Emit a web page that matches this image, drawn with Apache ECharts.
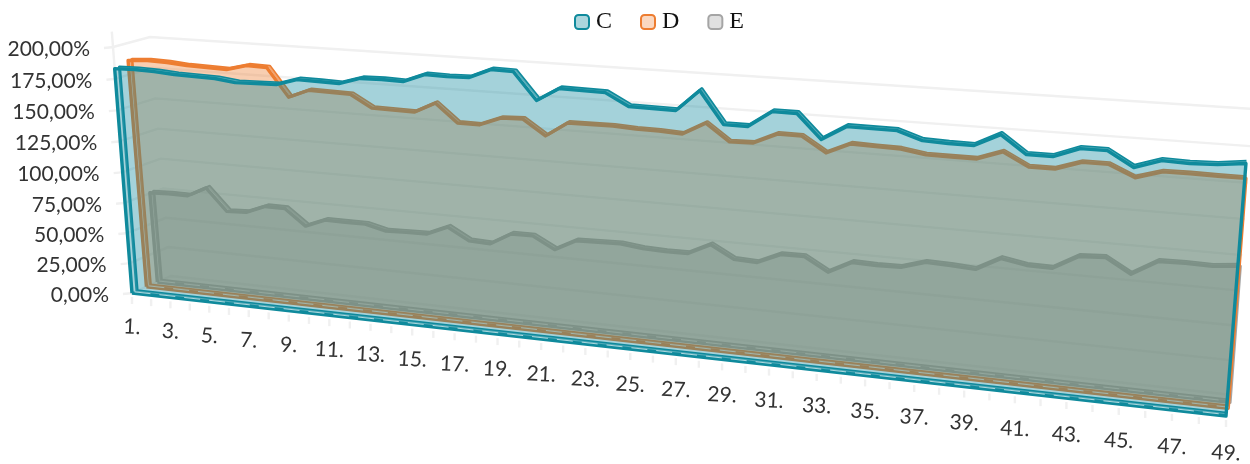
<!DOCTYPE html>
<html><head><meta charset="utf-8">
<style>html,body{margin:0;padding:0;background:#fff}#c{width:1250px;height:464px}</style>
<script src="https://cdn.jsdelivr.net/npm/echarts@6/dist/echarts.min.js"></script>
</head><body><div id="c"></div>
<script>
const categories = ["1.","2.","3.","4.","5.","6.","7.","8.","9.","10.","11.","12.","13.","14.","15.","16.","17.","18.","19.","20.","21.","22.","23.","24.","25.","26.","27.","28.","29.","30.","31.","32.","33.","34.","35.","36.","37.","38.","39.","40.","41.","42.","43.","44.","45.","46.","47.","48.","49."];
const valueTicks = [0,25,50,75,100,125,150,175,200];
const seriesC = [183.0,183.4,182.9,181.7,181.3,180.9,178.9,179.3,179.7,184.7,184.4,184.0,189.0,189.4,189.0,195.4,195.0,195.4,202.5,202.1,182.0,192.0,191.7,191.4,182.5,182.3,182.1,197.7,174.5,174.4,186.3,186.2,169.0,179.5,179.4,179.3,173.6,173.0,172.9,181.8,169.4,169.4,176.2,176.2,166.1,172.2,171.7,172.3,174.5];
const seriesD = [186.3,187.4,186.9,185.6,185.2,184.7,188.9,188.5,166.5,173.1,172.7,172.4,162.9,162.6,162.3,170.4,156.5,156.3,162.7,163.3,151.9,162.9,163.0,163.2,162.3,162.1,161.2,170.4,158.1,158.6,166.4,166.3,155.5,163.3,162.7,162.4,159.6,159.5,159.5,165.8,156.7,156.7,162.7,162.7,154.9,160.4,160.5,160.3,160.3];
const seriesE = [75.5,76.1,76.0,84.0,66.1,66.9,73.3,73.2,60.3,66.8,66.7,66.8,62.8,63.3,63.7,70.8,61.5,60.8,70.2,70.3,61.2,69.8,70.3,70.8,68.7,68.1,68.3,76.7,67.2,66.6,74.3,74.5,64.5,73.5,73.0,73.4,78.7,78.2,77.1,86.7,83.4,83.1,93.3,94.3,84.1,94.9,95.3,94.9,96.7];

// Box seen in perspective: corners of the front and of the back plane
const frontQuad = {bl:[132,293], br:[1226,416], tr:[1249,125], tl:[113,47]};
const backQuad  = {bl:[171,276], br:[1232,395], tr:[1253,109], tl:[150,37]};

function homography(q){
  const [x0,y0]=q.bl,[x1,y1]=q.br,[x2,y2]=q.tr,[x3,y3]=q.tl;
  const dx1=x1-x2,dy1=y1-y2,dx2=x3-x2,dy2=y3-y2,sx=x0-x1+x2-x3,sy=y0-y1+y2-y3;
  const den=dx1*dy2-dy1*dx2;
  const g=(sx*dy2-sy*dx2)/den,h=(dx1*sy-dy1*sx)/den;
  return {a:x1-x0+g*x1,b:x3-x0+h*x3,c:x0,d:y1-y0+g*y1,e:y3-y0+h*y3,f:y0,g,h};
}
function lerp(a,b,t){return [a[0]+(b[0]-a[0])*t,a[1]+(b[1]-a[1])*t];}
function project(u,v,d){
  const H=homography({bl:lerp(frontQuad.bl,backQuad.bl,d),br:lerp(frontQuad.br,backQuad.br,d),tr:lerp(frontQuad.tr,backQuad.tr,d),tl:lerp(frontQuad.tl,backQuad.tl,d)});
  const w=1+H.g*u+H.h*v;
  return [(H.a*u+H.b*v+H.c)/w,(H.d*u+H.e*v+H.f)/w];
}
function toUnit(params,p){
  const r=params.coordSys;
  return [(p[0]-r.x)/r.width,(r.y+r.height-p[1])/r.height];
}
const LABEL_FONT='21px Lato';
const LABEL_COLOR='#333333';
const GRID='#f0f0f0';

function wallsRender(params,api){
  if(params.dataIndex!==0) return null;
  const kids=[];
  const line=(pts,stroke,lw)=>kids.push({type:'polyline',shape:{points:pts},style:{stroke:stroke,lineWidth:lw,fill:null},silent:true});
  const at=(i,val,d)=>{const t=toUnit(params,api.coord([i,val]));return project(t[0],t[1],d);};
  const last=categories.length-1;
  valueTicks.forEach(val=>{
    line([at(0,val,0),at(0,val,1),at(last,val,1)],GRID,2.4);
    const e=at(0,val,0);
    line([[e[0]-9,e[1]+1],[e[0]+1,e[1]]],GRID,2.4);
    kids.push({type:'text',silent:true,style:{text:val.toFixed(2).replace('.',',')+'%',x:e[0]-23,y:e[1]+2.5,align:'right',verticalAlign:'middle',font:LABEL_FONT,fill:LABEL_COLOR}});
  });
  line([at(0,212,0),at(0,0,0)],GRID,2.4);
  categories.forEach((c,i)=>{
    const b=at(i,0,0);
    line([[b[0],b[1]+4],[b[0],b[1]+11]],GRID,2.4);
    if(i%2===0){
      kids.push({type:'text',silent:true,rotation:-0.05,x:b[0],y:b[1]+34+3*i/last,style:{text:c,x:0,y:0,align:'center',verticalAlign:'middle',font:LABEL_FONT,fill:LABEL_COLOR}});
    }
  });
  return {type:'group',children:kids};
}

function slabRender(values,stroke,fill,d0,d1){
  return function(params,api){
    if(params.dataIndex!==0) return null;
    const last=values.length-1;
    const at=(i,val,d)=>{const t=toUnit(params,api.coord([i,val]));return project(t[0],t[1],d);};
    const front=values.map((v,i)=>at(i,v,d0));
    const back=values.map((v,i)=>at(i,v,d1));
    const fb0=at(0,0,d0),fb1=at(last,0,d0),bb0=at(0,0,d1),bb1=at(last,0,d1);
    const kids=[];
    const poly=(pts,f,s,lw)=>kids.push({type:'polygon',silent:true,shape:{points:pts},style:{fill:f,stroke:s||null,lineWidth:lw||0,lineJoin:'round'}});
    const line=(pts,s,lw,dash)=>kids.push({type:'polyline',silent:true,shape:{points:pts},style:{fill:null,stroke:s,lineWidth:lw,lineJoin:'round',lineDash:dash||null}});
    line([bb1,bb0].concat(back),stroke,3.2);
    poly([fb0,fb1,bb1,bb0],'rgba(255,255,255,0.45)');
    poly([fb0,front[0],back[0],bb0],'rgba(255,255,255,0.12)');
    poly(front.concat(back.slice().reverse()),'rgba(255,255,255,0.3)');
    poly(front.concat([fb1,fb0]),fill);
    line([fb0].concat(front).concat([fb1,fb0]),stroke,3.4);
    const mid0=at(0,0,(d0+d1)/2),mid1=at(last,0,(d0+d1)/2);
    line([mid0,mid1],'rgba(255,255,255,0.65)',1,[16,9]);
    return {type:'group',children:kids};
  };
}

const colorC='#0f8a9c',colorD='#ed7d31',colorE='#a5a5a5';
const fillC='rgba(15,138,158,0.38)',fillD='rgba(237,125,49,0.38)',fillE='rgba(165,165,165,0.4)';
const toPairs=a=>a.map((v,i)=>[i,v]);
const chart=echarts.init(document.getElementById('c'));
chart.setOption({
  animation:false,
  backgroundColor:'#fff',
  grid:{left:0,right:0,top:0,bottom:0},
  xAxis:{type:'category',data:categories,boundaryGap:false,show:false},
  yAxis:{type:'value',min:0,max:200,interval:25,show:false},
  legend:{left:569,top:5,itemWidth:14,itemHeight:14,itemGap:28,icon:'roundRect',
    textStyle:{fontFamily:'Liberation Serif',fontSize:24,color:'#111',padding:[0,0,0,2]},
    data:[
      {name:'C',itemStyle:{color:'rgba(15,138,158,0.35)',borderColor:colorC,borderWidth:2}},
      {name:'D',itemStyle:{color:'rgba(237,125,49,0.3)',borderColor:colorD,borderWidth:2}},
      {name:'E',itemStyle:{color:'rgba(165,165,165,0.35)',borderColor:colorE,borderWidth:2}}
    ]},
  series:[
    {type:'custom',name:'axes',coordinateSystem:'cartesian2d',silent:true,data:[[0,0]],renderItem:wallsRender,z:1},
    {type:'custom',name:'E',coordinateSystem:'cartesian2d',silent:true,data:toPairs(seriesE),renderItem:slabRender(seriesE,colorE,fillE,0.65,0.75),z:2,itemStyle:{color:colorE}},
    {type:'custom',name:'D',coordinateSystem:'cartesian2d',silent:true,data:toPairs(seriesD),renderItem:slabRender(seriesD,colorD,fillD,0.37,0.47),z:3,itemStyle:{color:colorD}},
    {type:'custom',name:'C',coordinateSystem:'cartesian2d',silent:true,data:toPairs(seriesC),renderItem:slabRender(seriesC,colorC,fillC,0,0.13),z:4,itemStyle:{color:colorC}}
  ]
});
</script></body></html>
